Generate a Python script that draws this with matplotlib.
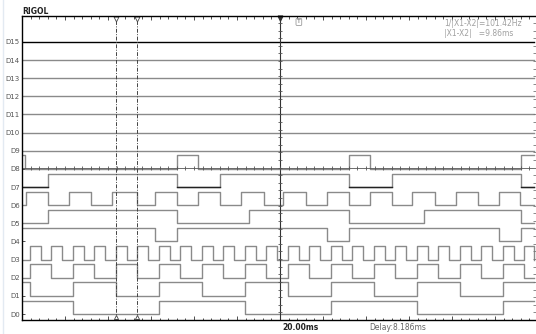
import numpy as np
import matplotlib
matplotlib.use('Agg')
import matplotlib.pyplot as plt

# time axis in ms, 20 ms/div, trigger at 0
t_left = -120.0
t_right = 119.1
t_end = 118.2

channels = ['D%d' % i for i in range(16)]

# level at the left edge of the screen, D0..D15
start_level = [1, 1, 0, 0, 1, 0, 0, 0, 1, 0, 0, 0, 0, 0, 0, 0]

# edge times (ms), each edge toggles the level
d0_edges = [-96.3, -56.3, -16.3, 23.7, 63.7, 103.7]
d1_edges = [-116.3, -96.3, -76.3, -56.3, -36.3, -16.3, 3.7, 23.7, 43.7, 63.7, 83.7, 103.7]
d2_edges = [-116.3, -106.3, -96.3, -86.3, -76.3, -66.3, -56.3, -46.3, -36.3, -26.3,
            -16.3, -6.3, 3.7, 13.7, 23.7, 33.7, 43.7, 53.7, 63.7, 73.7, 83.7, 93.7,
            103.7, 113.7]
d3_edges = [-116.3, -111.3, -106.3, -101.3, -96.3, -91.3, -86.3, -81.3, -76.3, -71.3,
            -66.3, -61.3, -56.3, -51.3, -46.3, -41.3, -36.3, -31.3, -26.3, -21.3,
            -16.3, -11.3, -6.3, -1.3, 3.7, 8.7, 13.7, 18.7, 23.7, 28.7, 33.7, 38.7,
            43.7, 48.7, 53.7, 58.7, 63.7, 68.7, 73.7, 78.7, 83.7, 88.7, 93.7, 98.7,
            103.7, 108.7, 113.7, 118.0]
d4_edges = [-58.1, -48.1, 21.9, 31.9, 101.9, 111.9]
d5_edges = [-108.1, -48.1, -14.4, 31.9, 67.0, 111.9]
d6_edges = [-118.3, -108.1, -98.3, -88.1, -78.1, -66.5, -58.1, -48.1, -38.1, -27.9,
            -18.1, -7.4, 1.6, 12.1, 21.9, 31.9, 41.9, 52.1, 61.6, 72.1, 81.9, 92.1,
            101.9, 111.8]
d7_edges = [-108.1, -48.1, -28.1, 31.9, 51.9, 111.9]
d8_edges = [-118.6, -48.1, -38.1, 31.9, 41.9, 111.9]

edges = [d0_edges, d1_edges, d2_edges, d3_edges, d4_edges, d5_edges, d6_edges,
         d7_edges, d8_edges, [], [], [], [], [], [], []]

cursor_x1 = -76.3
cursor_x2 = -66.44

amp = 0.745
gray = '#8a8a8a'


def wave(start, ed):
    xs = [t_left]
    ys = [start]
    lvl = start
    for e in ed:
        lvl = 1 - lvl
        xs.append(e)
        ys.append(lvl)
    xs.append(t_end)
    ys.append(lvl)
    return np.array(xs), np.array(ys)


fig = plt.figure(figsize=(5.36, 3.34), dpi=100)
ax = fig.add_axes([22 / 536, 14 / 334, 514 / 536, 304 / 334])
ax.set_xlim(t_left, t_right)
ax.set_ylim(-0.33, 16.43)

for k in range(16):
    xs, ys = wave(start_level[k], edges[k])
    col = 'black' if k == 15 else gray
    ax.plot(xs, k + ys * amp, drawstyle='steps-post', color=col, lw=1.0)
    if k == 7:
        # low stretches of D7 come out darker on the screen
        for i in range(len(xs) - 1):
            if ys[i] == 0:
                ax.plot([xs[i], xs[i + 1]], [k, k], color='#222222', lw=1.0)

# centre crosshair
yc = 8.05
ax.axvline(0, color='#333333', lw=0.8)
ax.axhline(yc, color='#555555', lw=0.6)
hx = np.arange(-116, 118, 4.0)
ax.plot(hx, np.full(len(hx), yc), ls='', marker='|', ms=2.5, mew=0.6, color='#555555')
vy = np.arange(-0.33, 16.43, 0.42)
ax.plot(np.zeros(len(vy)), vy, ls='', marker='_', ms=3, mew=0.6, color='#555555')
ax.plot(np.full(len(vy), 118.6), vy, ls='', marker='_', ms=2.5, mew=0.6, color='#777777')

# cursors
for cx in (cursor_x1, cursor_x2):
    ax.plot([cx, cx], [-0.33, 16.43], color='#444444', lw=0.7, dashes=(4, 1.5, 1, 1.5))
    ax.plot(cx, 16.25, marker='v', ms=3.5, mfc='white', mec='#444444', mew=0.6, clip_on=False)
    ax.plot(cx, -0.15, marker='^', ms=3, mfc='white', mec='#444444', mew=0.6, clip_on=False)
ax.plot(0, 16.3, marker='v', ms=3.5, color='#333333', clip_on=False)

# frame and ticks
for s in ('left', 'top', 'bottom'):
    ax.spines[s].set_color('black')
    ax.spines[s].set_linewidth(1.0)
ax.spines['right'].set_visible(False)
ax.set_xticks(np.arange(-120, 120, 20))
ax.set_xticks(np.arange(-120, 120, 4), minor=True)
ax.tick_params(axis='x', which='both', direction='in', top=True, bottom=True,
               labelbottom=False, color='#333333', width=0.6)
ax.tick_params(axis='x', which='major', length=3)
ax.tick_params(axis='x', which='minor', length=1.8)
ax.set_yticks(range(16))
ax.set_yticklabels(channels)
ax.tick_params(axis='y', direction='in', length=2.5, width=0.6, pad=1.5,
               labelsize=5, labelcolor='#555555', color='#333333')

# texts
fig.text(22 / 536, 1 - 11 / 334, 'RIGOL', fontsize=5.5, fontweight='bold',
         va='center', ha='left', color='#222222')
fig.text(444 / 536, 1 - 23 / 334, '1/|X1-X2|=101.42Hz', fontsize=5.5,
         va='center', ha='left', color='#a0a0a0')
fig.text(444 / 536, 1 - 34 / 334, '|X1-X2|   =9.86ms', fontsize=5.5,
         va='center', ha='left', color='#a0a0a0')
fig.text(282 / 536, 1 - 327 / 334, '20.00ms', fontsize=5.5, fontweight='bold',
         va='center', ha='left', color='#222222')
fig.text(369 / 536, 1 - 327 / 334, 'Delay:8.186ms', fontsize=5.5,
         va='center', ha='left', color='#666666')
ax.text(8.8, 16.1, 'T', fontsize=4.5, ha='center', va='center', color='#666666',
        bbox=dict(boxstyle='round,pad=0.15', fc='white', ec='#888888', lw=0.5))

fig.add_artist(plt.Line2D([3 / 536, 3 / 536], [0, 1], color='#e3eaf2', lw=1.0))

fig.savefig('out.png', dpi=100)
